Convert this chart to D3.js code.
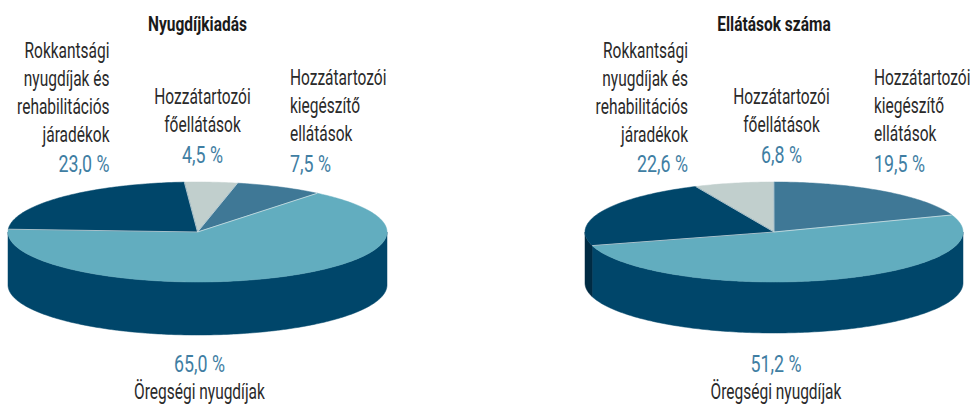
<!DOCTYPE html>
<html>
<head>
<meta charset="utf-8">
<script src="https://cdn.jsdelivr.net/npm/d3@7"></script>
<style>
  html, body { margin: 0; padding: 0; background: #fff; }
  svg { display: block; }
  text { font-family: Roboto, "Liberation Sans", sans-serif; }
</style>
</head>
<body>
<svg id="chart" width="972" height="405"></svg>
<script>
// ---- data ----
const categories = [
  "Hozzátartozói főellátások",
  "Hozzátartozói kiegészítő ellátások",
  "Öregségi nyugdíjak",
  "Rokkantsági nyugdíjak és rehabilitációs járadékok"
];
const labelLines = [
  ["Hozzátartozói", "főellátások"],
  ["Hozzátartozói", "kiegészítő", "ellátások"],
  ["Öregségi nyugdíjak"],
  ["Rokkantsági", "nyugdíjak és", "rehabilitációs", "járadékok"]
];
const titles = ["Nyugdíjkiadás", "Ellátások száma"];
const kiadasValues = [4.5, 7.5, 65.0, 23.0];
const ellatasValues = [6.8, 19.5, 51.2, 22.6];

// ---- styles ----
const topColors  = ["#c1cfcd", "#3f7896", "#62adbf", "#00466a"];
const sideColors = ["#8c9c9a", "#2b5a74", "#00466a", "#002b43"];
const pctColor = "#3f7ea3";
const textColor = "#2a2a2a";

const svg = d3.select("#chart");
svg.append("rect").attr("width", 972).attr("height", 405).attr("fill", "#fff");

const fmt = v => d3.format(".1f")(v).replace(".", ",") + " %";

// horizontal compression to imitate the condensed typeface
function measure(str, size, weight) {
  const t = svg.append("text").attr("font-size", size).attr("font-weight", weight).text(str);
  const w = t.node().getComputedTextLength();
  t.remove();
  return w;
}
const LABEL_SIZE = 22, PCT_SIZE = 23, TITLE_SIZE = 19.5;
const labelScale = 85 / measure("Rokkantsági", LABEL_SIZE, "normal");
const pctScale = 51 / measure("23,0 %", PCT_SIZE, "normal");
const titleScale = 99 / measure("Nyugdíjkiadás", TITLE_SIZE, "bold");

const pies = [
  { title: titles[0], values: kiadasValues, cx: 197.5, cy: 232, rx: 189.5, ry: 50, depth: 53,
    start: -4 * Math.PI / 180,
    lab: { mid: 5, right: 92.5, left: -88, bottom: 2 } },
  { title: titles[1], values: ellatasValues, cx: 774, cy: 232, rx: 189, ry: 50, depth: 51,
    start: -24.5 * Math.PI / 180,
    lab: { mid: 7.5, right: 100, left: -86, bottom: 2 } }
];

const line = d3.line();

pies.forEach(p => {
  const g = svg.append("g");
  const pie = d3.pie().sort(null).startAngle(p.start).endAngle(p.start + 2 * Math.PI);
  const arcs = pie(p.values);
  const px = a => p.cx + p.rx * Math.sin(a);
  const py = (a, dy = 0) => p.cy - p.ry * Math.cos(a) + dy;
  const arcPts = (a0, a1, dy = 0) => {
    const n = Math.max(2, Math.ceil(Math.abs(a1 - a0) / (Math.PI / 180)));
    return d3.range(n + 1).map(i => {
      const a = a0 + (a1 - a0) * i / n;
      return [px(a), py(a, dy)];
    });
  };

  // sides (front visible part)
  arcs.forEach((d, i) => {
    [-1, 0, 1].forEach(k => {
      const f0 = Math.PI / 2 + 2 * Math.PI * k, f1 = 3 * Math.PI / 2 + 2 * Math.PI * k;
      const b0 = Math.max(d.startAngle, f0), b1 = Math.min(d.endAngle, f1);
      if (b1 > b0) {
        const pts = arcPts(b0, b1).concat(arcPts(b1, b0, p.depth));
        g.append("path").attr("d", line(pts) + "Z")
          .attr("fill", sideColors[i]).attr("stroke", sideColors[i]).attr("stroke-width", 0.5);
      }
    });
  });

  // tops
  arcs.forEach((d, i) => {
    const pts = [[p.cx, p.cy]].concat(arcPts(d.startAngle, d.endAngle));
    g.append("path").attr("d", line(pts) + "Z")
      .attr("fill", topColors[i]).attr("stroke", topColors[i]).attr("stroke-width", 0.5)
      .attr("stroke-linejoin", "round");
  });
  arcs.forEach(d => {
    g.append("path").attr("d", line([[p.cx, p.cy], [px(d.startAngle), py(d.startAngle)]]))
      .attr("stroke", "#dfe8ea").attr("stroke-width", 0.7).attr("fill", "none");
  });

  // title
  g.append("text")
    .attr("transform", `translate(${p.cx},30.5) scale(${titleScale},1)`)
    .attr("text-anchor", "middle").attr("font-size", TITLE_SIZE).attr("font-weight", "bold")
    .attr("fill", "#1a1a1a").text(p.title);

  const LH = 28, PCTGAP = 30.5;
  const block = (x, firstBase, anchor, lines, value, pctFirst) => {
    const bg = g.append("g");
    const addText = (t, yy) => bg.append("text")
      .attr("transform", `translate(${x},${yy}) scale(${labelScale},1)`)
      .attr("text-anchor", anchor).attr("font-size", LABEL_SIZE).attr("fill", textColor).text(t);
    const addPct = (yy) => bg.append("text")
      .attr("transform", `translate(${x},${yy}) scale(${pctScale},1)`)
      .attr("text-anchor", anchor).attr("font-size", PCT_SIZE).attr("fill", pctColor).text(fmt(value));
    if (pctFirst) {
      addPct(firstBase);
      lines.forEach((t, j) => addText(t, firstBase + 27 * (j + 1)));
    } else {
      lines.forEach((t, j) => addText(t, firstBase + LH * j));
      addPct(firstBase + LH * (lines.length - 1) + PCTGAP);
    }
  };

  block(p.cx + p.lab.mid, 104, "middle", labelLines[0], p.values[0], false);
  block(p.cx + p.lab.right, 85, "start", labelLines[1], p.values[1], false);
  block(p.cx + p.lab.bottom, 372, "middle", labelLines[2], p.values[2], true);
  block(p.cx + p.lab.left, 57.5, "end", labelLines[3], p.values[3], false);
});
</script>
</body>
</html>
